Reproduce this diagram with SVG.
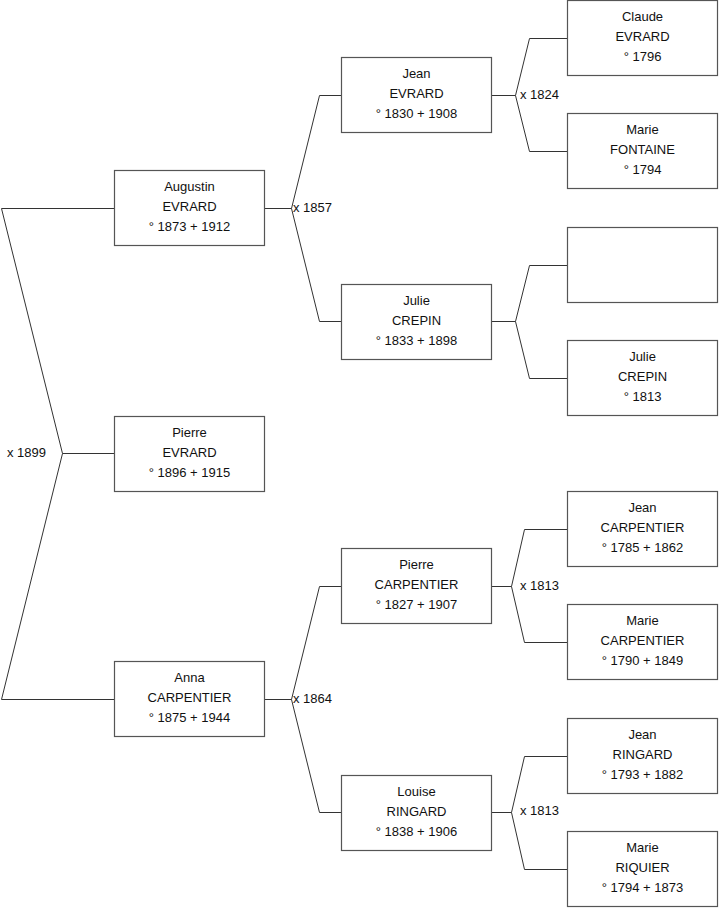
<svg xmlns="http://www.w3.org/2000/svg" width="719" height="908" viewBox="0 0 719 908">
<style>
.box{fill:#fff;stroke:#555;stroke-width:1.2}
.ln{fill:none;stroke:#333;stroke-width:1}
text{font-family:"Liberation Sans",Arial,sans-serif;font-size:13px;fill:#111}
.c{text-anchor:middle}
</style>
<rect width="719" height="908" fill="#fff"/>
<g id="connectors">
<polyline class="ln" points="114,208.5 1.5,208.5 62.5,453.5 1.5,699.5 114,699.5"/>
<line class="ln" x1="62.5" y1="453.5" x2="114" y2="453.5"/>
<text x="7" y="457">x 1899</text>
<polyline class="ln" points="341,95.5 319.5,95.5 291.5,208.5 319.5,321.5 341,321.5"/>
<line class="ln" x1="265" y1="208.5" x2="291.5" y2="208.5"/>
<text x="293" y="212">x 1857</text>
<polyline class="ln" points="341,586.5 319.5,586.5 291.5,699.5 319.5,812.5 341,812.5"/>
<line class="ln" x1="265" y1="699.5" x2="291.5" y2="699.5"/>
<text x="293" y="703">x 1864</text>
<polyline class="ln" points="567,38.5 529.5,38.5 515.5,95.5 529.5,151.5 567,151.5"/>
<line class="ln" x1="492" y1="95.5" x2="515.5" y2="95.5"/>
<text x="520" y="99">x 1824</text>
<polyline class="ln" points="567,265.5 529.5,265.5 515.5,321.5 529.5,378.5 567,378.5"/>
<line class="ln" x1="492" y1="321.5" x2="515.5" y2="321.5"/>
<polyline class="ln" points="567,529.5 524.5,529.5 511.5,586.5 524.5,642.5 567,642.5"/>
<line class="ln" x1="492" y1="586.5" x2="511.5" y2="586.5"/>
<text x="520" y="590">x 1813</text>
<polyline class="ln" points="567,756.5 524.5,756.5 511.5,812.5 524.5,869.5 567,869.5"/>
<line class="ln" x1="492" y1="812.5" x2="511.5" y2="812.5"/>
<text x="520" y="815">x 1813</text>
</g>
<g id="augustin"><rect class="box" x="114.5" y="170.5" width="150" height="75"/><text class="c" x="189.5" y="191">Augustin</text><text class="c" x="189.5" y="211">EVRARD</text><text class="c" x="189.5" y="231">° 1873 + 1912</text></g>
<g id="pierre"><rect class="box" x="114.5" y="416.5" width="150" height="75"/><text class="c" x="189.5" y="437">Pierre</text><text class="c" x="189.5" y="457">EVRARD</text><text class="c" x="189.5" y="477">° 1896 + 1915</text></g>
<g id="anna"><rect class="box" x="114.5" y="661.5" width="150" height="75"/><text class="c" x="189.5" y="682">Anna</text><text class="c" x="189.5" y="702">CARPENTIER</text><text class="c" x="189.5" y="722">° 1875 + 1944</text></g>
<g id="jean-evrard"><rect class="box" x="341.5" y="57.5" width="150" height="75"/><text class="c" x="416.5" y="78">Jean</text><text class="c" x="416.5" y="98">EVRARD</text><text class="c" x="416.5" y="118">° 1830 + 1908</text></g>
<g id="julie-crepin"><rect class="box" x="341.5" y="284.5" width="150" height="75"/><text class="c" x="416.5" y="305">Julie</text><text class="c" x="416.5" y="325">CREPIN</text><text class="c" x="416.5" y="345">° 1833 + 1898</text></g>
<g id="pierre-carpentier"><rect class="box" x="341.5" y="548.5" width="150" height="75"/><text class="c" x="416.5" y="569">Pierre</text><text class="c" x="416.5" y="589">CARPENTIER</text><text class="c" x="416.5" y="609">° 1827 + 1907</text></g>
<g id="louise-ringard"><rect class="box" x="341.5" y="775.5" width="150" height="75"/><text class="c" x="416.5" y="796">Louise</text><text class="c" x="416.5" y="816">RINGARD</text><text class="c" x="416.5" y="836">° 1838 + 1906</text></g>
<g id="claude-evrard"><rect class="box" x="567.5" y="0.5" width="150" height="75"/><text class="c" x="642.5" y="21">Claude</text><text class="c" x="642.5" y="41">EVRARD</text><text class="c" x="642.5" y="61">° 1796</text></g>
<g id="marie-fontaine"><rect class="box" x="567.5" y="113.5" width="150" height="75"/><text class="c" x="642.5" y="134">Marie</text><text class="c" x="642.5" y="154">FONTAINE</text><text class="c" x="642.5" y="174">° 1794</text></g>
<g id="unknown"><rect class="box" x="567.5" y="227.5" width="150" height="75"/></g>
<g id="julie-crepin-1813"><rect class="box" x="567.5" y="340.5" width="150" height="75"/><text class="c" x="642.5" y="361">Julie</text><text class="c" x="642.5" y="381">CREPIN</text><text class="c" x="642.5" y="401">° 1813</text></g>
<g id="jean-carpentier"><rect class="box" x="567.5" y="491.5" width="150" height="75"/><text class="c" x="642.5" y="512">Jean</text><text class="c" x="642.5" y="532">CARPENTIER</text><text class="c" x="642.5" y="552">° 1785 + 1862</text></g>
<g id="marie-carpentier"><rect class="box" x="567.5" y="604.5" width="150" height="75"/><text class="c" x="642.5" y="625">Marie</text><text class="c" x="642.5" y="645">CARPENTIER</text><text class="c" x="642.5" y="665">° 1790 + 1849</text></g>
<g id="jean-ringard"><rect class="box" x="567.5" y="718.5" width="150" height="75"/><text class="c" x="642.5" y="739">Jean</text><text class="c" x="642.5" y="759">RINGARD</text><text class="c" x="642.5" y="779">° 1793 + 1882</text></g>
<g id="marie-riquier"><rect class="box" x="567.5" y="831.5" width="150" height="75"/><text class="c" x="642.5" y="852">Marie</text><text class="c" x="642.5" y="872">RIQUIER</text><text class="c" x="642.5" y="892">° 1794 + 1873</text></g>
</svg>
